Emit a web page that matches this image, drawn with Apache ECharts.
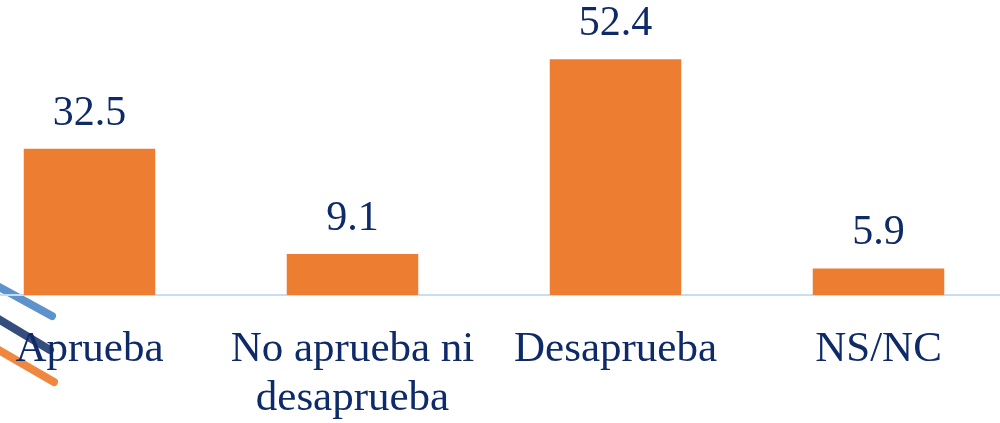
<!DOCTYPE html>
<html>
<head>
<meta charset="utf-8">
<script src="https://cdn.jsdelivr.net/npm/echarts@6/dist/echarts.min.js"></script>
<style>
  html, body { margin: 0; padding: 0; background: #fff; overflow: hidden; }
  #chart { width: 1052px; height: 423px; margin-left: -42px; }
</style>
</head>
<body>
<div id="chart"></div>
<script>
// datos
const categorias = ['Aprueba', 'No aprueba ni\ndesaprueba', 'Desaprueba', 'NS/NC'];
const valores = [32.5, 9.1, 52.4, 5.9];

const navy = '#0E2A68';
const off = 42; // el lienzo empieza 42px a la izquierda de la ventana
const chart = echarts.init(document.getElementById('chart'));

chart.setOption({
  animation: false,
  // adorno de la diapositiva (franjas abajo a la izquierda)
  graphic: [
    { type: 'line', z: 0, shape: { x1: off - 10, y1: 282, x2: off + 52, y2: 316 }, style: { stroke: '#4B86C4', lineWidth: 8, lineCap: 'round', opacity: 0.9 } },
    { type: 'line', z: 0, shape: { x1: off - 10, y1: 314, x2: off + 50, y2: 350 }, style: { stroke: '#1E3A6E', lineWidth: 8, lineCap: 'round', opacity: 0.9 } },
    { type: 'line', z: 0, shape: { x1: off - 10, y1: 345, x2: off + 54, y2: 382 }, style: { stroke: '#EE7A2C', lineWidth: 8, lineCap: 'round', opacity: 0.9 } }
  ],
  grid: { left: 0, right: 0, top: 25, bottom: 121 },
  xAxis: {
    type: 'category',
    data: categorias,
    axisLine: { lineStyle: { color: '#C6DDF4', width: 2 } },
    axisTick: { show: false },
    axisLabel: {
      interval: 0,
      color: navy,
      fontFamily: 'Liberation Serif',
      fontSize: 43,
      lineHeight: 49,
      margin: 30
    }
  },
  yAxis: {
    type: 'value',
    min: 0,
    max: 60,
    show: false,
    splitLine: { show: false }
  },
  series: [{
    type: 'bar',
    data: valores,
    barWidth: '50%',
    itemStyle: { color: '#ED7D31' },
    label: {
      show: true,
      position: 'top',
      distance: 14,
      color: navy,
      fontFamily: 'Liberation Serif',
      fontSize: 42,
      formatter: p => p.value.toFixed(1)
    }
  }]
});
</script>
</body>
</html>
